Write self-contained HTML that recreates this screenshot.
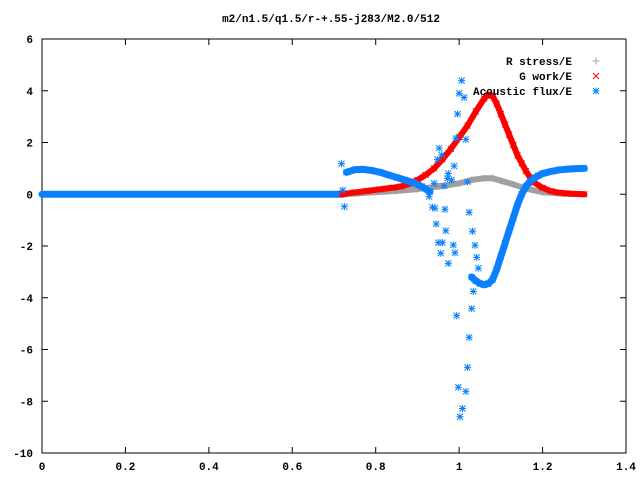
<!DOCTYPE html>
<html><head><meta charset="utf-8"><style>
html,body{margin:0;padding:0;background:#fff;}
svg{display:block;font-family:"Liberation Mono",monospace;font-weight:bold;font-size:11px;}
</style></head><body>
<svg id="chart" width="640" height="480" viewBox="0 0 640 480" xmlns="http://www.w3.org/2000/svg">
<text x="331" y="22" text-anchor="middle">m2/n1.5/q1.5/r-+.55-j283/M2.0/512</text>
<g id="axes"></g>
<g id="series"></g>
<g id="legend"></g>
</svg>
<script>
const xTicks=[0,0.2,0.4,0.6,0.8,1,1.2,1.4];
const xTickLabels=["0","0.2","0.4","0.6","0.8","1","1.2","1.4"];
const yTicks=[-10,-8,-6,-4,-2,0,2,4,6];
const yTickLabels=["-10","-8","-6","-4","-2","0","2","4","6"];
const stressX=[0.72,0.76,0.8,0.85,0.9,0.95,1.0,1.03,1.06,1.08,1.1,1.13,1.16,1.2,1.25,1.3];
const stressY=[0,0.04,0.08,0.13,0.2,0.3,0.42,0.55,0.62,0.62,0.52,0.38,0.22,0.08,0.02,0];
const workX=[0.72,0.75,0.78,0.81,0.84,0.86,0.88,0.9,0.92,0.94,0.96,0.98,1.0,1.02,1.04,1.06,1.07,1.08,1.09,1.1,1.11,1.12,1.13,1.14,1.15,1.16,1.17,1.18,1.2,1.22,1.24,1.27,1.3];
const workY=[0,0.07,0.13,0.19,0.25,0.3,0.4,0.55,0.75,1.0,1.35,1.75,2.2,2.65,3.2,3.7,3.85,3.8,3.5,3.1,2.7,2.3,1.9,1.5,1.2,0.9,0.65,0.45,0.25,0.12,0.06,0.02,0];
const fluxBaseX=[0,0.72];
const fluxBaseY=[0,0];
const fluxAX=[0.73,0.75,0.77,0.79,0.81,0.83,0.85,0.87,0.89,0.91,0.93];
const fluxAY=[0.85,0.95,0.96,0.92,0.85,0.75,0.65,0.55,0.45,0.3,0.1];
const fluxBX=[1.03,1.04,1.05,1.06,1.07,1.08,1.09,1.1,1.11,1.12,1.13,1.14,1.15,1.16,1.17,1.18,1.19,1.2,1.22,1.24,1.26,1.28,1.3];
const fluxBY=[-3.2,-3.35,-3.45,-3.5,-3.45,-3.3,-2.9,-2.4,-1.9,-1.4,-0.9,-0.4,0,0.3,0.5,0.62,0.72,0.8,0.88,0.94,0.97,0.99,1.0];
const fluxScatX=[1.006,1.0,1.012,0.996,0.992,1.016,0.952,0.948,0.958,0.988,0.974,0.972,0.982,0.964,1.02,0.94,0.928,0.936,0.942,0.966,0.945,1.024,0.968,1.032,0.95,0.96,0.986,1.038,0.956,0.99,1.042,0.974,1.046,1.034,1.03,0.994,1.024,1.02,0.998,1.016,1.008,1.002,0.721,0.725,0.718];
const fluxScatY=[4.39,3.9,3.74,3.1,2.16,2.12,1.78,1.35,1.52,1.09,0.8,0.61,0.55,0.32,0.48,0.42,-0.09,-0.5,-0.54,-0.58,-1.15,-0.7,-1.41,-1.43,-1.87,-1.87,-1.96,-1.97,-2.28,-2.26,-2.44,-2.67,-2.86,-3.76,-4.42,-4.69,-5.53,-6.69,-7.46,-7.62,-8.28,-8.6,0.16,-0.48,1.18];

const L=42,R=626,T=39,B=453,xmin=0,xmax=1.4,ymin=-10,ymax=6;
const sx=v=>L+(v-xmin)/(xmax-xmin)*(R-L);
const sy=v=>B-(v-ymin)/(ymax-ymin)*(B-T);
const NS="http://www.w3.org/2000/svg";
function mk(tag,attrs,parent){const e=document.createElementNS(NS,tag);for(const k in attrs)e.setAttribute(k,attrs[k]);parent.appendChild(e);return e;}
const axes=document.getElementById('axes'),ser=document.getElementById('series'),leg=document.getElementById('legend');
const frame=mk('rect',{x:L,y:T,width:R-L,height:B-T,fill:'none',stroke:'#000','stroke-width':1},axes);


xTicks.forEach((v,i)=>{const x=sx(v);
 const t=mk('path',{d:`M${x} ${B}v-6M${x} ${T}v6`,stroke:'#000'},axes);
 
 
 const l=mk('text',{x:x,y:470,'text-anchor':'middle'},axes);l.textContent=xTickLabels[i];
 
 });
yTicks.forEach((v,i)=>{const y=sy(v);
 const t=mk('path',{d:`M${L} ${y}h6M${R} ${y}h-6`,stroke:'#000'},axes);
 
 
 const l=mk('text',{x:33,y:y+4,'text-anchor':'end'},axes);l.textContent=yTickLabels[i];
 
 });
function marker(type,x,y,col,g){
 let d;
 if(type==='plus')d=`M${x-3.5} ${y}h7M${x} ${y-3.5}v7`;
 else if(type==='cross')d=`M${x-3} ${y-3}l6 6M${x-3} ${y+3}l6 -6`;
 else d=`M${x-3.5} ${y}h7M${x} ${y-3.5}v7M${x-3} ${y-3}l6 6M${x-3} ${y+3}l6 -6`;
 const p=mk('path',{d:d,stroke:col,'stroke-width':1,fill:'none'},g);return p;}
function band(xs,ys,col,w,name){
 const pts=xs.map((v,i)=>sx(v)+','+sy(ys[i])).join(' ');
 const p=mk('polyline',{points:pts,fill:'none',stroke:col,'stroke-width':w,'stroke-linejoin':'round','stroke-linecap':'round'},ser);
 
 }
function pts(xs,ys,type,col,name){xs.forEach((v,i)=>{const m=marker(type,sx(v),sy(ys[i]),col,ser);
 
 });}
band(fluxBaseX,fluxBaseY,'#0a80ff',7,'acoustic-flux-baseline');
band(stressX,stressY,'#a0a0a0',6,'r-stress-band');
pts(stressX,stressY,'plus','#a0a0a0','r-stress-point');
band(workX,workY,'#ff0000',6,'g-work-band');
pts(workX,workY,'cross','#ff0000','g-work-point');
band(fluxAX,fluxAY,'#0a80ff',7,'acoustic-flux-band');
band(fluxBX,fluxBY,'#0a80ff',7,'acoustic-flux-band');
pts(fluxAX,fluxAY,'star','#0a80ff','acoustic-flux-point');
pts(fluxBX,fluxBY,'star','#0a80ff','acoustic-flux-point');
pts(fluxScatX,fluxScatY,'star','#0a80ff','acoustic-flux-point');
const legItems=[["R stress/E",'plus','#a0a0a0'],["G work/E",'cross','#ff0000'],["Acoustic flux/E",'star','#0a80ff']];
legItems.forEach((it,i)=>{const y=61+i*15;
 const t=mk('text',{x:572,y:y+4,'text-anchor':'end'},leg);t.textContent=it[0];
 
 
 const m=marker(it[1],596,y,it[2],leg);
 
 });
</script>
</body></html>
